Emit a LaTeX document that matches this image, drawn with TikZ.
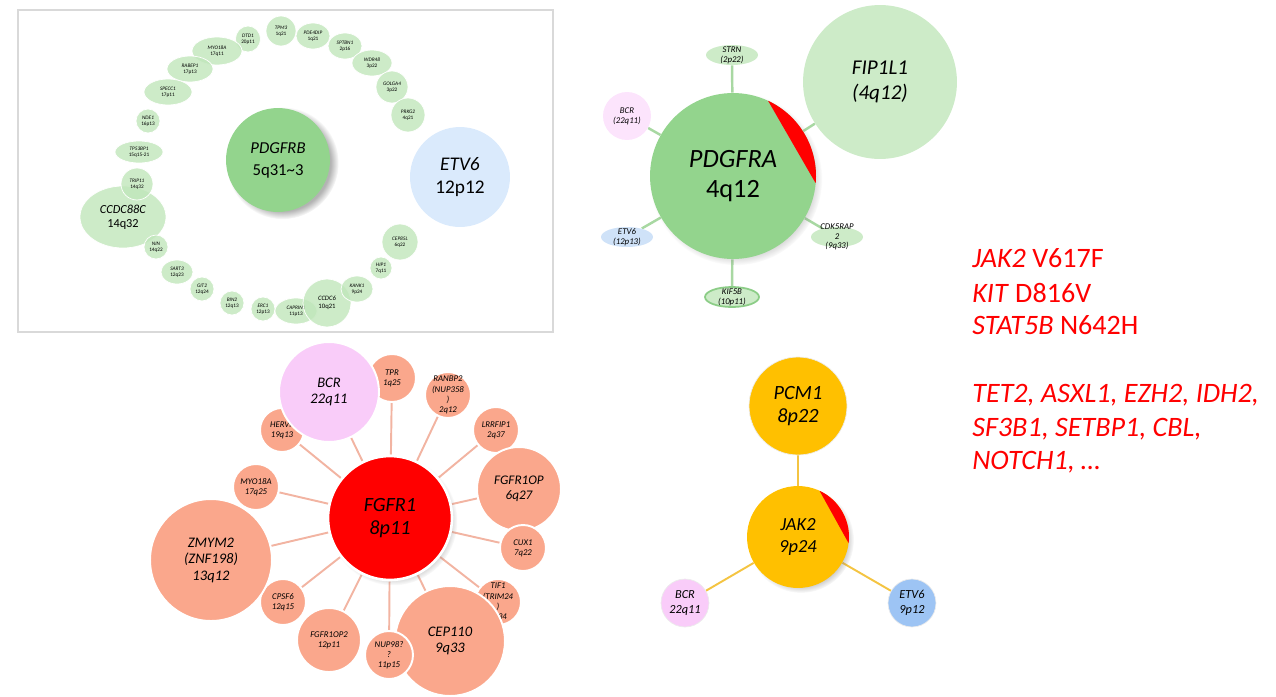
\documentclass[tikz,border=0pt]{standalone}
\usepackage{fontspec}
\setmainfont{Carlito}
\usetikzlibrary{shapes.geometric,shadows,backgrounds}

\definecolor{ringgreen}{RGB}{192,230,186}
\definecolor{palegreen}{RGB}{205,235,200}
\definecolor{pdgfgreen}{RGB}{147,212,141}
\definecolor{kifgreen}{RGB}{140,205,135}
\definecolor{greenline}{RGB}{168,216,162}
\definecolor{paleblue}{RGB}{218,234,252}
\definecolor{etvblue}{RGB}{207,226,248}
\definecolor{midblue}{RGB}{157,196,244}
\definecolor{palepink}{RGB}{252,228,252}
\definecolor{bcrpink}{RGB}{249,204,249}
\definecolor{salmon}{RGB}{250,167,140}
\definecolor{salmonline}{RGB}{242,180,162}
\definecolor{jakorange}{RGB}{255,192,0}
\definecolor{jakline}{RGB}{244,196,66}
\definecolor{framegray}{RGB}{217,217,217}

\def\ringfont{\fontsize{3}{3.5}\selectfont}
\def\budfont{\fontsize{5}{5.6}\selectfont\itshape}
\def\satfont{\fontsize{5}{5.8}\selectfont\itshape}
\def\midfont{\fontsize{8.3}{9.4}\selectfont\itshape}

\tikzset{
  gtext/.style 2 args={label={[align=center, inner sep=0pt, font=#1]center:{#2}}},
  hub/.style={circle, inner sep=0pt, minimum size=#1*0.04cm},
  ring/.style={circle, fill=ringgreen, fill opacity=0.8, draw=white, line width=0.4pt, inner sep=0pt, minimum size=#1*0.04cm},
  ringoval/.style 2 args={ellipse, fill=ringgreen, fill opacity=0.8, draw=white, line width=0.4pt, inner sep=0pt, minimum width=#1*0.02cm, minimum height=#2*0.02cm},
  bud/.style 2 args={ellipse, inner sep=0pt, minimum width=#1*0.02cm, minimum height=#2*0.02cm},
  sat/.style={circle, fill=salmon, draw=white, line width=1.1pt, inner sep=0pt, minimum size=#1*0.04cm},
  softshadow/.style={circular drop shadow={shadow xshift=1.6pt, shadow yshift=-1.6pt, shadow scale=1.04, opacity=0.45}},
  darkshadow/.style={circular drop shadow={shadow xshift=2.4pt, shadow yshift=-1.6pt, shadow scale=1.08, opacity=0.6}},
  gline/.style={greenline, line width=1.4pt},
  fline/.style={salmonline, line width=1.1pt},
  jline/.style={jakline, line width=1.1pt},
  mut/.style={anchor=base west, inner sep=0pt, text=red, font=\fontsize{16}{19}\selectfont}
}

\begin{document}
\begin{tikzpicture}[x=0.02cm, y=-0.02cm]
\useasboundingbox (0,0) rectangle (1276,697);

%Frame of the PDGFRB panel
\draw[framegray, line width=0.6pt] (18,10) rectangle (553,332);

%PDGFRB and ETV6
\node[hub=52, fill=pdgfgreen, darkshadow, gtext={\fontsize{9.5}{12.5}\selectfont}{\textit{PDGFRB}\\5q31\textasciitilde3}] (pdgfrb) at (278,160) {};
\node[hub=50, fill=paleblue, gtext={\fontsize{11}{13.5}\selectfont}{\textit{ETV6}\\12p12}] (etvB) at (460,177) {};

%Ring of partners
\node[ringoval={86}{62}, gtext={\fontsize{7}{8.2}\selectfont}{\textit{CCDC88C}\\14q32}] (ccdc88c) at (123,217) {};
\node[ring=15, gtext={\ringfont}{\textit{TPM3}\\1q21}] (tpm3) at (281,31) {};
\node[ringoval={34}{26}, gtext={\ringfont}{\textit{PDE4DIP}\\1q21}] (pde4dip) at (313,36) {};
\node[ringoval={34}{26}, gtext={\ringfont}{\textit{SPTBN1}\\2p16}] (sptbn1) at (345,46) {};
\node[ringoval={40}{26}, gtext={\ringfont}{\textit{WDR48}\\3p22}] (wdr48) at (372,63) {};
\node[ring=16, gtext={\ringfont}{\textit{GOLGA4}\\3p22}] (golga4) at (392,87) {};
\node[ring=17, gtext={\ringfont}{\textit{PRKG2}\\4q21}] (prkg2) at (408,115) {};
\node[ringoval={25}{26}, gtext={\ringfont}{\textit{DTD1}\\20p11}] (dtd1) at (248,39) {};
\node[ringoval={50}{28}, gtext={\ringfont}{\textit{MYO18A}\\17q11}] (myo18a) at (217,51) {};
\node[ringoval={46}{26}, gtext={\ringfont}{\textit{RABEP1}\\17p13}] (rabep1) at (190,69) {};
\node[ringoval={48}{26}, gtext={\ringfont}{\textit{SPECC1}\\17p11}] (specc1) at (168,92) {};
\node[ring=12, gtext={\ringfont}{\textit{NDE1}\\16p13}] (nde1) at (148,121) {};
\node[ringoval={48}{22}, gtext={\ringfont}{\textit{TP53BP1}\\15q15-21}] (tp53bp1) at (139,152) {};
\node[ring=16, gtext={\ringfont}{\textit{TRIP11}\\14q32}] (trip11) at (137,184) {};
\node[ring=12, gtext={\ringfont}{\textit{NIN}\\14q22}] (nin) at (156,247) {};
\node[ringoval={32}{24}, gtext={\ringfont}{\textit{SART3}\\12q23}] (sart3) at (177,272) {};
\node[ring=12, gtext={\ringfont}{\textit{GIT2}\\12q24}] (git2) at (202,289) {};
\node[ring=12, gtext={\ringfont}{\textit{BIN2}\\12q13}] (bin2) at (232,303) {};
\node[ring=12, gtext={\ringfont}{\textit{ERC1}\\12p13}] (erc1) at (263,309) {};
\node[ringoval={42}{26}, gtext={\ringfont}{\textit{CAPRIN1}\\11p13}] (caprin1) at (296,311) {};
\node[ring=24, gtext={\fontsize{3.8}{4.4}\selectfont}{\textit{CCDC6}\\10q21}] (ccdc6) at (327,303) {};
\node[ringoval={32}{26}, gtext={\ringfont}{\textit{KANK1}\\9p24}] (kank1) at (357,289) {};
\node[ring=11, gtext={\ringfont}{\textit{HIP1}\\7q11}] (hip1) at (381,268) {};
\node[ring=18, gtext={\ringfont}{\textit{CEP85L}\\6q22}] (cep85l) at (400,242) {};

%PDGFRA
\node[hub=83, fill=pdgfgreen, softshadow, gtext={\fontsize{15}{17}\selectfont}{\textit{PDGFRA}\\4q12}] (pdgfra) at (733,176) {};
\fill[red] (pdgfra.center) ++(-65:83) arc[start angle=-65, end angle=5, radius=83] -- cycle;
\node[hub=77, fill=palegreen, gtext={\fontsize{12}{14}\selectfont\itshape}{FIP1L1\\(4q12)}] (fip) at (880,82) {};
\node[bud={52}{20}, fill=palegreen, gtext={\budfont}{STRN\\(2p22)}] (strn) at (732,55) {};
\node[hub=24, fill=palepink, gtext={\budfont}{BCR\\(22q11)}] (bcrA) at (627,116) {};
\node[bud={52}{20}, fill=etvblue, gtext={\budfont}{ETV6\\(12p13)}] (etvA) at (627,237) {};
\node[bud={52}{20}, fill=palegreen, gtext={\budfont}{CDK5RAP\\2\\(9q33)}] (cdk) at (837,237) {};
\node[bud={54}{20}, fill=palegreen, draw=kifgreen, line width=1pt, gtext={\budfont}{KIF5B\\(10p11)}] (kif) at (732,297) {};
\begin{scope}[on background layer]
\foreach \s in {strn,fip,bcrA,etvA,cdk,kif}
  \draw[gline] (pdgfra) -- (\s);
\end{scope}

%FGFR1 and partners
\node[sat=24, gtext={\satfont}{TPR\\1q25}] (tpr) at (392,378) {};
\node[sat=22, gtext={\satfont}{HERVK\\19q13}] (herv) at (282,430) {};
\node[sat=50, fill=bcrpink, gtext={\midfont}{BCR\\22q11}] (bcrF) at (329,392) {};
\node[sat=23, gtext={\satfont}{RANBP2\\(NUP358\\)\\2q12}] (ranbp2) at (448,395) {};
\node[sat=23, gtext={\satfont}{LRRFIP1\\2q37}] (lrrfip1) at (496,430) {};
\node[sat=42, gtext={\fontsize{7.5}{8.5}\selectfont\itshape}{FGFR1OP\\6q27}] (fgfr1op) at (519,489) {};
\node[sat=23, gtext={\satfont}{CUX1\\7q22}] (cux1) at (523,548) {};
\node[sat=23, gtext={\satfont}{TIF1\\(TRIM24\\)\\7q34}] (tif1) at (498,602) {};
\node[sat=55, gtext={\midfont}{CEP110\\9q33}] (cep110) at (450,641) {};
\node[sat=24, gtext={\satfont}{NUP98?\\?\\11p15}] (nup98) at (389,655) {};
\node[sat=32, gtext={\satfont}{FGFR1OP2\\12p11}] (fgfr1op2) at (329,640) {};
\node[sat=23, gtext={\satfont}{CPSF6\\12q15}] (cpsf6) at (283,602) {};
\node[sat=61, gtext={\midfont}{ZMYM2\\(ZNF198)\\13q12}] (zmym2) at (211,560) {};
\node[sat=23, gtext={\satfont}{MYO18A\\17q25}] (myo18aF) at (256,487) {};
\node[sat=62, fill=red, line width=1.5pt, softshadow, gtext={\fontsize{11.5}{13.3}\selectfont\itshape}{FGFR1\\8p11}] (fgfr1) at (390,518) {};
\begin{scope}[on background layer]
\foreach \s in {tpr,herv,bcrF,ranbp2,lrrfip1,fgfr1op,cux1,tif1,cep110,nup98,fgfr1op2,cpsf6,zmym2,myo18aF}
  \draw[fline] (fgfr1) -- (\s);
\end{scope}

%JAK2 and partners
\node[hub=49, fill=jakorange, draw=white!85!gray, line width=0.4pt, gtext={\fontsize{11.5}{13.5}\selectfont\itshape}{PCM1\\8p22}] (pcm1) at (798,406) {};
\node[hub=51, fill=jakorange, softshadow, gtext={\fontsize{10.5}{12.5}\selectfont\itshape}{JAK2\\9p24}] (jak2) at (798,537) {};
\fill[red] (jak2.center) ++(-65:51) arc[start angle=-65, end angle=7, radius=51] -- cycle;
\node[hub=24, fill=bcrpink, draw=white!85!gray, line width=0.4pt, gtext={\fontsize{7}{8.5}\selectfont\itshape}{BCR\\22q11}] (bcrJ) at (685,603) {};
\node[hub=24, fill=midblue, draw=white!85!gray, line width=0.4pt, gtext={\fontsize{7}{8.5}\selectfont\itshape}{ETV6\\9p12}] (etvJ) at (912,603) {};
\begin{scope}[on background layer]
\foreach \s in {pcm1,bcrJ,etvJ}
  \draw[jline] (jak2) -- (\s);
\end{scope}

%Point mutations
\node[mut] (mjak) at (972,267) {\textit{JAK2} V617F};
\node[mut] (mkit) at (972,302) {\textit{KIT} D816V};
\node[mut] (mstat) at (972,334) {\textit{STAT5B} N642H};
\node[mut] (mrest1) at (972,402) {\textit{TET2, ASXL1, EZH2, IDH2,}};
\node[mut] (mrest2) at (972,436) {\textit{SF3B1, SETBP1, CBL,}};
\node[mut] (mrest3) at (972,469) {\textit{NOTCH1, …}};

\end{tikzpicture}
\end{document}
